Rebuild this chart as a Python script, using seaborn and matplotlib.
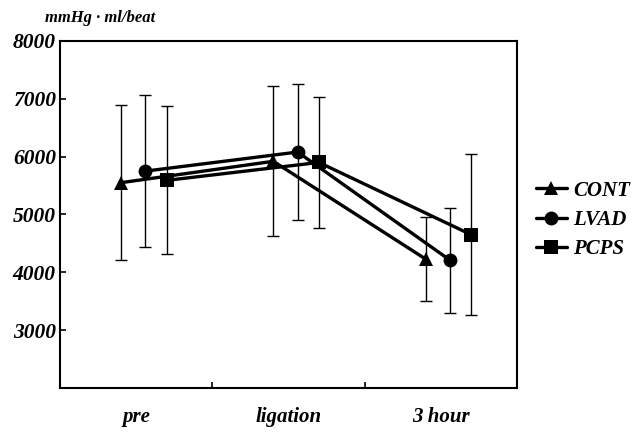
import pandas as pd
import matplotlib
matplotlib.use("Agg")
import matplotlib.pyplot as plt
import seaborn as sns

# ─── Data ────────────────────────────────────────────────────────────────────
phases = ["pre", "ligation", "3 hour"]
groups = ["CONT", "LVAD", "PCPS"]
cont_mean = [5550, 5920, 4230]
cont_sd = [1340, 1300, 720]
lvad_mean = [5750, 6080, 4210]
lvad_sd = [1310, 1180, 910]
pcps_mean = [5590, 5900, 4650]
pcps_sd = [1280, 1130, 1390]

means = {"CONT": cont_mean, "LVAD": lvad_mean, "PCPS": pcps_mean}
sds = {"CONT": cont_sd, "LVAD": lvad_sd, "PCPS": pcps_sd}
offsets = {"CONT": 0.40, "LVAD": 0.56, "PCPS": 0.70}
markers = {"CONT": "^", "LVAD": "o", "PCPS": "s"}

rows = []
for g in groups:
    for i, ph in enumerate(phases):
        rows.append({"group": g, "phase": ph, "x": i + offsets[g],
                     "mean": means[g][i], "sd": sds[g][i]})
df = pd.DataFrame(rows)

# ─── Style ───────────────────────────────────────────────────────────────────
sns.set_style("ticks")
plt.rcParams["font.family"] = ["Liberation Serif", "DejaVu Serif"]
plt.rcParams["font.weight"] = "bold"
plt.rcParams["font.style"] = "italic"
for k in ["text.color", "axes.labelcolor", "xtick.color", "ytick.color",
          "axes.edgecolor"]:
    plt.rcParams[k] = "black"

fig = plt.figure(figsize=(6.33, 4.32), dpi=100)
ax = fig.add_axes([60 / 633, 1 - 388 / 432, 457 / 633, 347 / 432])

# error bars first
for g in groups:
    sub = df[df["group"] == g]
    ax.errorbar(sub["x"], sub["mean"], yerr=sub["sd"], fmt="none",
                ecolor="black", elinewidth=1.0, capsize=4, capthick=1.0, zorder=2)

sns.lineplot(data=df, x="x", y="mean", hue="group", style="group",
             palette=["black"] * 3, markers=markers, dashes=False,
             markersize=10, linewidth=2.4, markeredgewidth=0,
             estimator=None, sort=False, ax=ax, zorder=3)

ax.set_xlim(0, 3)
ax.set_ylim(2000, 8000)
ax.set_yticks([3000, 4000, 5000, 6000, 7000, 8000])
ax.set_xticks([1, 2])
ax.set_xticklabels([])
ax.tick_params(axis="both", direction="in", length=4, width=1.2, colors="black")
ax.tick_params(axis="y", labelsize=15.5, pad=3)
for lab in ax.get_yticklabels():
    lab.set_fontweight("bold")
    lab.set_fontstyle("italic")
for s in ax.spines.values():
    s.set_visible(True)
    s.set_linewidth(1.5)
    s.set_color("black")

# category labels centred in each interval
for i, ph in enumerate(phases):
    ax.text(i + 0.5, -0.055, ph, transform=ax.get_xaxis_transform(),
            ha="center", va="top", fontsize=15, fontweight="bold",
            fontstyle="italic")

ax.set_xlabel("")
ax.set_ylabel("")
fig.text(45 / 633, 1 - 18 / 432, "mmHg \u00b7 ml/beat", ha="left", va="center",
         fontsize=12, fontweight="bold", fontstyle="italic")

leg = ax.legend(loc="center left", bbox_to_anchor=(1.0, 0.484), frameon=False,
                borderaxespad=0.5, handlelength=1.5, handletextpad=0.3,
                labelspacing=0.45, prop={"size": 15, "weight": "bold",
                                         "style": "italic"})
for h in leg.legend_handles:
    h.set_linewidth(2.4)
for t in leg.get_texts():
    t.set_color("black")

fig.savefig("out.png", dpi=100)
